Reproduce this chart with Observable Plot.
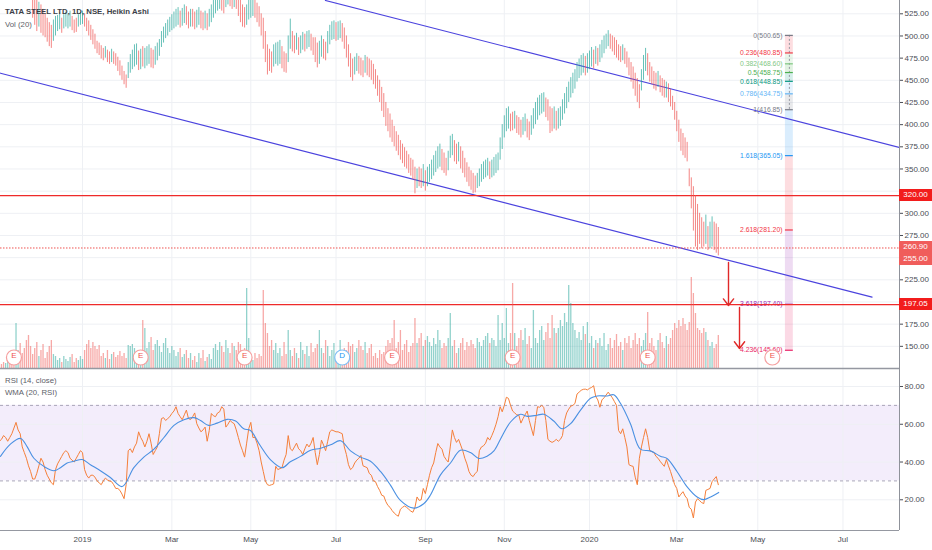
<!DOCTYPE html>
<html><head><meta charset="utf-8">
<script src="https://cdn.jsdelivr.net/npm/d3@7"></script>
<script src="https://cdn.jsdelivr.net/npm/@observablehq/plot@0.6"></script>
<style>
html,body{margin:0;padding:0;background:#fff;}
#chart{position:relative;width:932px;height:550px;overflow:hidden;font-family:"Liberation Sans",Arial,sans-serif;background:#fff;}
#chart svg{position:absolute;left:0;}
.lg{position:absolute;left:5px;font-size:7.8px;color:#5d6068;white-space:nowrap;line-height:10px;}
.pl{position:absolute;left:899px;width:33px;color:#fff;font-size:8px;text-align:center;line-height:12px;height:12px;}
</style></head><body><div id="chart"></div>
<script>
// ---------- DATA ----------
const startDate = "2018-11-01";
const holidays = ["2018-11-08","2018-11-23","2018-12-25","2019-03-04","2019-03-21","2019-04-17","2019-04-19","2019-04-29","2019-05-01","2019-06-05","2019-08-12","2019-08-15","2019-09-02","2019-09-10","2019-10-02","2019-10-08","2019-10-21","2019-10-28","2019-11-12","2019-12-25","2020-02-21","2020-03-10","2020-04-02","2020-04-06","2020-04-10","2020-04-14","2020-05-01","2020-05-25"];
const monthNames = ["Jan","Feb","Mar","Apr","May","Jun","Jul","Aug","Sep","Oct","Nov","Dec"];
const visibleBars = [0.53, 433.2];

// Heikin Ashi bars (high / low / direction), one per trading day
const barHi = [
600,596,592,598,600,596,590,586,582,588,584,580,576,572,570,566,
548,545,540,538,535,530,525,520,515,512,518,522,523,526,520,524,
527,525,528,522,518,520,524,527,528,525,520,517,512,507,502,
494,492,489,486,488,484,482,485,482,480,476,472,466,460,456,470,
479,484,490,491,483,485,488,486,488,490,486,484,488,492,496,
505,510,514,518,521,524,527,530,532,528,531,535,533,527,530,
530,527,529,532,528,526,528,525,530,535,540,545,548,550,547,545,
552,555,552,550,552,548,545,540,535,532,535,540,542,545,542,
537,533,525,520,505,490,485,482,490,492,493,495,488,482,480,500,
519,505,500,503,498,500,504,502,505,506,502,498,498,492,494,
500,496,493,505,512,516,517,515,516,517,514,509,500,490,480,
474,476,480,477,475,472,478,476,474,472,468,462,455,450,442,435,
425,418,412,405,398,392,388,382,378,374,370,366,362,360,
352,350,352,350,355,348,352,355,360,365,370,375,378,372,368,362,370,
387,389,382,378,380,375,370,362,357,352,348,345,342,345,350,
355,358,360,362,358,360,363,366,368,385,400,410,418,420,412,
414,415,410,408,405,408,412,406,403,410,418,425,430,433,435,436,
430,428,420,418,420,415,418,420,428,435,442,448,453,458,462,
470,474,478,480,477,480,483,487,484,488,486,490,495,500,502,
506,502,500,498,495,490,488,490,486,482,475,470,465,458,452,
445,462,478,486,480,470,465,460,458,460,455,452,450,448,446,440,
432,425,415,405,395,390,385,380,350,340,330,320,310,300,295,290,298,285,290,296,290,288,284];
const barLo = [
575,572,570,575,578,574,568,565,562,566,563,558,555,552,550,545,
520,512,505,510,503,500,498,493,488,486,494,500,505,507,503,508,
510,508,510,506,503,504,510,512,513,510,505,500,495,490,485,
480,478,474,472,475,470,468,470,468,466,460,455,450,445,441,452,
458,462,465,467,461,462,465,463,466,468,464,463,467,472,477,
487,492,497,500,504,506,508,510,512,509,511,514,512,508,510,
510,507,509,512,508,506,508,506,510,515,520,525,528,530,528,525,
532,535,533,530,532,530,522,515,510,509,512,518,520,522,520,
515,510,500,485,470,456,460,458,465,468,466,468,463,459,458,470,
485,482,480,484,478,480,484,482,485,487,483,478,470,464,468,
476,474,472,480,490,495,496,494,495,497,493,485,475,465,453,
449,456,460,457,455,453,458,455,453,450,445,440,432,425,415,408,
398,392,385,380,375,370,365,360,356,352,350,345,342,338,
322,328,330,328,330,325,330,335,338,342,346,350,352,348,345,342,348,
362,365,358,355,358,350,345,340,335,330,326,322,323,328,330,
335,338,340,342,338,340,342,345,348,360,372,385,392,395,392,
393,395,390,388,385,388,392,385,382,388,395,400,405,410,412,414,
408,404,390,392,395,393,395,398,405,412,418,425,430,435,440,
448,452,455,458,455,458,462,465,463,468,466,470,475,480,485,
488,485,482,478,475,472,470,472,468,464,455,448,440,432,425,
418,438,450,460,455,448,445,440,438,442,436,432,430,430,425,420,
416,405,392,380,370,365,362,358,330,305,280,262,258,265,260,262,265,258,260,262,258,255,252];
const barDir =
"rrrggrrrggrrrrrr"+"rrrgrrrrrrggggrg"+"gggrrrgggrrrrrr"+"rrrrgrrgrrrrrrrg"+"ggggrgrgggrrggg"+
"gggggggggrggrrg"+"rrggrrgrggggggrr"+"ggrrgrrrrrggggr"+"rrrrrrrrggggrrrg"+"grrgrggrggrrrrg"+
"grrggggrggrrrrr"+"rggrrrgrrrrrrrrr"+"rrrrrrrrrrrrrr"+"rgrrgrgggggggrrrg"+"ggrrgrrrrrrrrgg"+
"ggggrgggggggggr"+"rgrrrggrrggggggg"+"rrrrgrggggggggg"+"ggggrgggrgrgggg"+"grrrrrrgrrrrrrr"+
"rgggrrrrrgrrrgrr"+"rrrrrrrrrrrrrrrrgrggrrr";

// Volume (lakh shares)
const volume = [
5,4,6,5,8,7,9,8,45,18,25,15,20,28,33,22,
14,20,26,12,18,24,10,16,22,28,14,12,8,10,6,12,
9,7,11,14,6,10,8,12,9,18,24,28,20,26,22,
19,23,12,15,10,18,9,14,16,11,13,17,12,15,10,23,
22,24,20,15,12,14,48,40,20,26,31,18,24,28,22,
16,25,30,20,15,22,18,12,16,20,11,14,18,10,15,
8,12,6,15,10,18,7,11,14,9,20,24,18,26,22,16,
28,20,15,25,22,18,26,24,16,20,80,30,12,8,15,
10,14,12,78,45,35,22,28,18,25,15,20,12,26,14,38,
18,12,20,15,10,26,18,14,22,12,25,16,20,24,38,
20,15,28,22,12,18,25,10,16,28,14,20,18,26,22,
24,16,20,28,22,18,26,15,20,24,12,15,10,18,14,16,
22,28,25,30,48,20,26,38,18,24,28,16,22,25,
50,25,30,35,22,28,32,26,22,30,24,38,28,20,25,22,30,
55,22,28,15,20,25,30,18,26,22,28,24,20,30,26,
22,28,32,35,25,30,28,22,53,28,45,30,60,25,35,
85,35,22,30,38,28,40,24,32,20,58,30,25,38,42,28,
36,45,30,53,40,35,40,48,42,55,46,83,65,45,38,
30,36,28,42,34,46,25,32,20,28,25,30,22,35,18,
24,30,20,28,34,22,26,18,30,25,32,20,28,35,24,
30,22,28,35,56,25,30,22,18,28,35,26,20,32,24,30,
38,45,40,48,42,50,44,38,46,91,75,55,40,38,35,40,36,28,22,26,20,24,33];

// RSI (14, close)
const rsi14 = [
51,52,54,53,51,53,55,58,61,57,55,48,45,42,38,35,
31,31,34,38,42,40,36,33,31,29,28,36,39,41,43,45,
46,45,42,41,40,42,44,46,45,36,33,31.5,33,33,32,
30,29,28,30,31.5,30.5,30,29.6,28,26,26,25,23,20.6,28,46,
47,45,48,50,56,53,51,48,51,55,50,44,46,48,55,
63,63.5,62,63,64,65.7,67,69.3,65.7,64,62.4,65,67.5,63,62.5,
64,66,60.3,58,56,57,58.5,51,56.7,65.7,64.5,64,66,66.6,69.3,68,
58.5,60,62,61,60.3,57,53,49,46,42.6,50,57.6,61,53,53,
50,46,40,35,30,28,27.6,28,28.4,37.7,36,36.5,37,41,44,54,
47,46,48,50,47,46,44,47,49.5,48,50,53,45,38.6,44,
51.6,49,46,51,56,57,56.5,56,56,55.5,55,48,44,38.6,36,
37,39.5,41,42,43.5,38,37.5,37,34,33,30,29.6,27,25,22.4,22,
19,17,16,14.3,13,12,11.3,15,16,16.7,16,15,14,13.4,
16,21.5,19.7,20,26,23.3,28,33,37,39.5,45,49.8,48,46.8,43,41.3,40,
48,57,53,50.4,52,49,46,42,39,35,33,32.3,34,35,46,
48,48.6,50,53,51.6,54,56.7,60,64,69.3,66.6,70,74.3,73.7,70,
67,66,65,64.8,60.6,63,65,67,62,58,54,62,69.3,69,70,69,
62,52,51,50.4,51,52,51,52,54,62,66,68,69.6,70,71,
76,77,78,78.5,78.6,78.2,79,79.5,80.4,74.7,72.9,69,72.9,74,75.5,
77,75.5,74,72,70,56.7,55,57.6,53,48,38.6,38,37.7,32,28,
42,48,53,57.6,53,46,45.5,45,43,42,40.4,39,37.7,41.3,38,35,
31.5,28,26,21.5,23,24.3,22,20.6,16,15,10.4,18.8,20.6,19.5,18.5,18,25,25.5,26,29.6,31,32.3,28];

// WMA (20, RSI) read at sample bars
const wmaBar = [0.5,5.3,10.2,13.4,16.6,21.4,26.2,29.4,32.6,35.8,39.9,43.8,48.6,53.4,59.1,64.7,69.5,74.4,79.2,84,88.8,93.6,96.8,100.7,104.8,109.6,113.7,117.6,120.8,125.6,130.4,136.1,140,144.9,149.8,154.6,159.4,164.2,169,173.8,178.6,183.4,188.2,193,199.4,204.2,207.4,212.3,217.1,221.9,226.7,230.7,234.7,238,241.2,246,250.8,254,258.8,262,266.8,270.8,274.9,279.7,284.5,287.7,292.5,295.7,298.9,303.7,308.5,313.3,318.1,321.3,326.1,330.9,335.8,339,342.3,346.2];
const wmaVal = [43,49.5,52.5,48,42,37.7,35.4,37,39.5,40.4,41.3,38.6,35.4,31.8,27,37,42.6,46.8,53,59.4,62.4,63.5,62,59.4,60.6,62.6,61.7,57.6,56.7,48.6,41.3,37,40.1,43,46.2,47.3,49.1,51.3,45.9,42.6,40.4,35,27.8,19.7,15.6,17.9,22.4,33.2,39.5,46.2,45,41.9,43.1,45.9,52.2,61.2,65.3,64.2,64.8,65.3,61.7,57.6,60.3,67.5,73.8,75,75,75.6,71.1,60.3,46.8,45.9,43.1,41.9,35,27,21.5,20.1,21.5,23.9];

// Drawings
const priceTicks = [150,175,225,275,300,350,375,400,425,450,475,500,525];
const gridPrices = [150,175,200,225,250,275,300,325,350,375,400,425,450,475,500,525];
const rsiTicks = [20,40,60,80];
const rsiBand = [30,70];
const hLines = [320, 197.05];
const lastPrice = 260.90;
const lastHA = 255.00;
const upperChannel = [[156.9, 540.0],[433.2, 374.3]];
const lowerChannel = [[0.53, 458.0],[420.0, 205.4]];
const fibLevels = [0,0.236,0.382,0.5,0.618,0.786,1,1.618,2.618,3.618,4.236];
const fibPrices = [500.65,480.85,468.60,458.75,448.85,434.75,416.85,365.05,281.20,197.40,145.60];
const fibColors = ["#787b86","#f23645","#81c784","#4caf50","#089981","#64b5f6","#787b86","#2196f3","#f23645","#9c27b0","#e91e63"];
const fibSpan = [378.3, 382.1];
const arrowBars = [350.9, 356.2];
const arrowFrom = [244.5, 193.8];
const arrowTo = [196.0, 147.6];
const eventBars = [7, 68, 118, 165, 189, 247, 312, 372];
const eventTypes = ["E","E","E","D","E","E","E","E"];

// ---------- BUILD ----------
const UP = "#26a69a", DN = "#ef5350", GRID = "#eef0f4", AXIS = "#8f929a", TXT = "#4a4d55";
const FONT = '"Liberation Sans", Arial, sans-serif';
const hol = new Set(holidays);
const days = [];
for (let d = new Date(startDate + "T00:00:00Z"); d <= new Date("2020-08-31T00:00:00Z"); d.setUTCDate(d.getUTCDate() + 1)) {
  const wd = d.getUTCDay(), s = d.toISOString().slice(0, 10);
  if (wd !== 0 && wd !== 6 && !hol.has(s)) days.push(s);
}
const monthTicks = [];
for (let i = 1; i < days.length; i++) {
  const m = +days[i].slice(5, 7), pm = +days[i - 1].slice(5, 7);
  if (m !== pm && (m - 1) % 2 === 0 && i > visibleBars[0] && i < visibleBars[1])
    monthTicks.push({i, label: m === 1 ? days[i].slice(0, 4) : monthNames[m - 1]});
}
const n = Math.min(barHi.length, barLo.length, barDir.length, volume.length, rsi14.length);
const bars = d3.range(n).map(i => ({i, hi: barHi[i], lo: barLo[i], col: barDir[i] === "g" ? UP : DN, vol: volume[i], rsi: rsi14[i]}));
const wma = wmaBar.map((b, k) => ({i: b, v: wmaVal[k]}));
const fib = fibLevels.map((l, k) => ({level: l, price: fibPrices[k], color: fibColors[k]}));
const fibBands = fib.slice(1).map((f, k) => ({a: fib[k].price, b: f.price, color: f.color}));
const arrows = arrowBars.map((b, k) => ({x: b, y1: arrowFrom[k], y2: arrowTo[k]}));
const events = eventBars.map((b, k) => ({i: b, t: eventTypes[k]}));
const xDom = visibleBars;
const common = {width: 932, marginLeft: 0, marginRight: 33, x: {domain: xDom, axis: null}, color: {type: "identity"},
  style: {background: "transparent", fontFamily: FONT, fontSize: "8px", overflow: "visible"}};

const pricePlot = Plot.plot({
  ...common, height: 368, marginTop: 0, marginBottom: 0,
  y: {domain: [125, 540], axis: null},
  marks: [
    Plot.ruleY(gridPrices, {stroke: GRID}),
    Plot.ruleX(monthTicks, {x: "i", stroke: GRID}),
    Plot.rect(fibBands, {x1: () => fibSpan[0], x2: () => fibSpan[1], y1: "a", y2: "b", fill: "color", fillOpacity: 0.17}),
    Plot.ruleX([fib[0]], {x: () => (fibSpan[0] + fibSpan[1]) / 2, y1: () => fibPrices[0], y2: () => fibPrices[6], stroke: "#9598a1", strokeDasharray: "2,2"}),
    Plot.ruleY(fib, {y: "price", x1: () => fibSpan[0], x2: () => fibSpan[1], stroke: "color", strokeWidth: 1.2}),
    Plot.text(fib, {x: () => fibSpan[0], y: "price", text: d => `${d.level}(${d.price.toFixed(2)})`, textAnchor: "end", dx: -3, fill: "color", fontSize: 6.8}),
    Plot.line(upperChannel, {x: d => d[0], y: d => d[1], stroke: "#4b43de", strokeWidth: 1.2, clip: true}),
    Plot.line(lowerChannel, {x: d => d[0], y: d => d[1], stroke: "#4b43de", strokeWidth: 1.2, clip: true}),
    Plot.ruleY(hLines, {stroke: "#ee2a2a", strokeWidth: 1.2}),
    Plot.ruleY([lastPrice], {stroke: DN, strokeDasharray: "1.5,1.5"}),
    Plot.ruleX(bars, {x: "i", y1: "lo", y2: "hi", stroke: "col", strokeOpacity: 0.7, strokeWidth: 1, clip: true}),
    Plot.arrow(arrows, {x1: "x", x2: "x", y1: "y1", y2: "y2", stroke: "#e02828", strokeWidth: 1.4, headLength: 9, headAngle: 75}),
    Plot.ruleX([xDom[1]], {stroke: AXIS}),
    Plot.axisY(priceTicks, {anchor: "right", tickFormat: d => d.toFixed(2), tickSize: 3, tickPadding: 2, fontSize: 8, color: TXT})
  ]
});

const volPlot = Plot.plot({
  ...common, height: 368, marginTop: 0, marginBottom: 0,
  y: {domain: [0, 368], axis: null},
  marks: [
    Plot.ruleX(bars, {x: "i", y1: 0, y2: "vol", stroke: "col", strokeOpacity: 0.5, strokeWidth: 1.3, clip: true}),
    Plot.dot(events, {x: "i", frameAnchor: "bottom", dy: -11, r: 7.5, fill: "white", stroke: d => d.t === "D" ? "#7fbff5" : "#f5a0a0", strokeWidth: 1.2}),
    Plot.text(events, {x: "i", frameAnchor: "bottom", dy: -11, text: "t", fill: d => d.t === "D" ? "#2196f3" : "#ef5350", fontSize: 8})
  ]
});

const rsiPlot = Plot.plot({
  ...common, height: 182, marginTop: 0, marginBottom: 20,
  y: {domain: [3.74, 89.53], axis: null},
  marks: [
    Plot.rect([rsiBand], {x1: () => xDom[0], x2: () => xDom[1], y1: d => d[0], y2: d => d[1], fill: "#9c6ade", fillOpacity: 0.12}),
    Plot.ruleY(rsiTicks, {stroke: GRID}),
    Plot.ruleX(monthTicks, {x: "i", stroke: GRID}),
    Plot.ruleY(rsiBand, {stroke: "#a9a6b8", strokeDasharray: "3,3"}),
    Plot.line(bars, {x: "i", y: "rsi", stroke: "#f57f3a", strokeWidth: 1, clip: true}),
    Plot.line(wma, {x: "i", y: "v", stroke: "#4a90e2", strokeWidth: 1.1, curve: "catmull-rom", clip: true}),
    Plot.ruleX([xDom[1]], {stroke: AXIS}),
    Plot.ruleY([89.53], {stroke: "#9598a1", strokeWidth: 1.5}),
    Plot.ruleY([3.74], {stroke: "#9598a1", strokeWidth: 1.2}),
    Plot.axisY(rsiTicks, {anchor: "right", tickFormat: d => d.toFixed(2), tickSize: 3, tickPadding: 2, fontSize: 8, color: TXT}),
    Plot.text(monthTicks, {x: "i", text: "label", frameAnchor: "bottom", dy: 11, fontSize: 8, fill: TXT})
  ]
});

const chart = document.getElementById("chart");
pricePlot.style.top = "0px";
volPlot.style.top = "0px";
rsiPlot.style.top = "368px";
chart.append(pricePlot, volPlot, rsiPlot);

const ys = pricePlot.scale("y");
function label(text, top, bg) {
  const div = document.createElement("div");
  div.className = "pl"; div.textContent = text;
  div.style.top = top + "px"; div.style.background = bg;
  chart.append(div);
}
label(hLines[0].toFixed(2), ys.apply(hLines[0]) - 6, "#f21c1c");
label(lastPrice.toFixed(2), ys.apply(lastPrice) - 6, "#f05d5b");
label(lastHA.toFixed(2), ys.apply(lastPrice) + 6, "#f05d5b");
label(hLines[1].toFixed(2), ys.apply(hLines[1]) - 6, "#f21c1c");

function legend(text, top, color, weight) {
  const div = document.createElement("div");
  div.className = "lg"; div.textContent = text; div.style.top = top + "px";
  if (color) div.style.color = color;
  if (weight) div.style.fontWeight = weight;
  chart.append(div);
}
legend("TATA STEEL LTD, 1D, NSE, Heikin Ashi", 7, "#3b3e46", "600");
legend("Vol (20)", 20);
legend("RSI (14, close)", 376);
legend("WMA (20, RSI)", 388);
</script></body></html>
